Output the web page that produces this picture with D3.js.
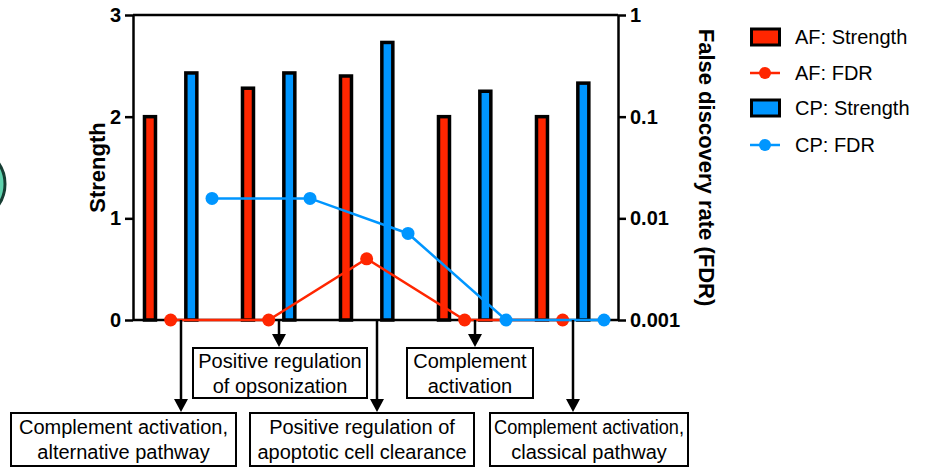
<!DOCTYPE html>
<html>
<head>
<meta charset="utf-8">
<script src="https://cdn.jsdelivr.net/npm/d3@7"></script>
<style>
  body { margin: 0; background: #fff; }
  text { font-family: "Liberation Sans", Arial, sans-serif; fill: #000; }
</style>
</head>
<body>
<svg id="chart" width="931" height="467"></svg>
<script>
// categories (GO terms), one group of bars per term
const categories = [
    ["Complement activation,", "alternative pathway"],
    ["Positive regulation", "of opsonization"],
    ["Positive regulation of", "apoptotic cell clearance"],
    ["Complement", "activation"],
    ["Complement activation,", "classical pathway"]
];
const afStrength = [2.0, 2.28, 2.40, 2.0, 2.0];
const cpStrength = [2.43, 2.43, 2.73, 2.25, 2.33];
const afFdr = [0.001, 0.001, 0.004, 0.001, 0.001];
const cpFdr = [0.0157, 0.0157, 0.0071, 0.001, 0.001];
const strengthTicks = [0, 1, 2, 3];
const fdrTicks = [0.001, 0.01, 0.1, 1];
const seriesNames = ["AF: Strength", "AF: FDR", "CP: Strength", "CP: FDR"];

const red = "#ff2600";
const blue = "#0096ff";

const svg = d3.select("#chart");
const plotTop = 15, plotBottom = 320, plotLeft = 133, plotRight = 618;

const ids = categories.map((c, i) => i);
const x = d3.scaleBand().domain(ids).range([132, 622]);
const slot = d3.scalePoint().domain(seriesNames).range([0, x.bandwidth()]).padding(0.87);
const y = d3.scaleLinear().domain([0, 3]).range([plotBottom, plotTop]);
const yFdr = d3.scaleLog().domain([0.001, 1]).range([plotBottom, plotTop]);

// cut-off circle at the left edge (part of a neighbouring panel)
svg.append("circle")
    .attr("cx", -32).attr("cy", 184).attr("r", 37)
    .attr("fill", "#5fd3ae").attr("stroke", "#163d33").attr("stroke-width", 3);

// frame line along the top
svg.append("line")
    .attr("x1", plotLeft).attr("x2", plotRight).attr("y1", plotTop).attr("y2", plotTop)
    .attr("stroke", "#000").attr("stroke-width", 2.5);

const yAxis = svg.append("g")
    .attr("transform", `translate(${plotLeft},0)`)
    .call(d3.axisLeft(y).tickValues(strengthTicks).tickFormat(d3.format("d")).tickSize(8).tickPadding(4).tickSizeOuter(0));
const fdrAxis = svg.append("g")
    .attr("transform", `translate(${plotRight},0)`)
    .call(d3.axisRight(yFdr).tickValues(fdrTicks).tickFormat(d3.format("~g")).tickSize(8).tickPadding(4).tickSizeOuter(0));
const xAxis = svg.append("g")
    .attr("transform", `translate(0,${plotBottom})`)
    .call(d3.axisBottom(x).tickSize(0).tickSizeOuter(0).tickFormat(""));
xAxis.select(".domain").attr("d", `M${plotLeft},0H${plotRight}`);

[yAxis, fdrAxis, xAxis].forEach(g => {
    g.selectAll("path, line").attr("stroke", "#000").attr("stroke-width", 2.5);
    g.selectAll("text")
        .style("font-family", '"Liberation Sans", Arial, sans-serif')
        .style("font-size", "20px").style("font-weight", "bold").attr("fill", "#000");
});

svg.append("text")
    .attr("transform", `translate(97,${(plotTop + plotBottom) / 2}) rotate(-90)`)
    .attr("text-anchor", "middle").attr("dominant-baseline", "central")
    .style("font-size", "22px").style("font-weight", "bold")
    .text("Strength");
svg.append("text")
    .attr("transform", `translate(706,${(plotTop + plotBottom) / 2}) rotate(90)`)
    .attr("text-anchor", "middle").attr("dominant-baseline", "central")
    .style("font-size", "22px").style("font-weight", "bold")
    .text("False discovery rate (FDR)");

// bars
const barW = 11;
function drawBars(values, name, color) {
    svg.append("g").selectAll("rect")
        .data(values)
        .enter()
        .append("rect")
        .attr("x", (d, i) => x(i) + slot(name) - barW / 2)
        .attr("y", d => y(d))
        .attr("width", barW)
        .attr("height", d => y(0) - y(d))
        .attr("fill", color)
        .attr("stroke", "#000")
        .attr("stroke-width", 3.5);
}
drawBars(afStrength, "AF: Strength", red);
drawBars(cpStrength, "CP: Strength", blue);

// FDR lines
function drawFdr(values, name, color) {
    const line = d3.line()
        .x((d, i) => x(i) + slot(name))
        .y(d => yFdr(d));
    svg.append("path")
        .datum(values)
        .attr("d", line)
        .attr("fill", "none")
        .attr("stroke", color)
        .attr("stroke-width", 2.5);
    svg.append("g").selectAll("circle")
        .data(values)
        .enter()
        .append("circle")
        .attr("cx", (d, i) => x(i) + slot(name))
        .attr("cy", d => yFdr(d))
        .attr("r", 6.5)
        .attr("fill", color);
}
drawFdr(afFdr, "AF: FDR", red);
drawFdr(cpFdr, "CP: FDR", blue);

// arrows down to the term boxes; two rows of boxes
const rowTop = [348, 413];
const rowBottom = [398, 466];
const boxEdges = [[11, 236], [193, 367], [250, 474], [407, 533], [490, 688]];
const headH = 13, headW = 14;

categories.forEach((lines, i) => {
    const row = i % 2 === 0 ? 1 : 0;
    const cx = x(i) + x.bandwidth() / 2;
    const tip = rowTop[row] - 1;
    svg.append("line")
        .attr("x1", cx).attr("x2", cx)
        .attr("y1", plotBottom).attr("y2", tip - headH + 1)
        .attr("stroke", "#000").attr("stroke-width", 2.5);
    svg.append("path")
        .attr("d", `M${cx - headW / 2},${tip - headH}L${cx + headW / 2},${tip - headH}L${cx},${tip}Z`)
        .attr("fill", "#000");

    const [x0, x1] = boxEdges[i];
    svg.append("rect")
        .attr("x", x0).attr("y", rowTop[row])
        .attr("width", x1 - x0).attr("height", rowBottom[row] - rowTop[row])
        .attr("fill", "#fff").attr("stroke", "#000").attr("stroke-width", 2);
    const mid = (rowTop[row] + rowBottom[row]) / 2;
    lines.forEach((t, k) => {
        const txt = svg.append("text")
            .attr("x", (x0 + x1) / 2)
            .attr("y", mid + (k - 0.5) * 25)
            .attr("text-anchor", "middle")
            .attr("dominant-baseline", "central")
            .style("font-size", "20px")
            .text(t);
        const maxW = x1 - x0 - 8;
        if (txt.node().getComputedTextLength() > maxW) {
            txt.attr("textLength", maxW).attr("lengthAdjust", "spacingAndGlyphs");
        }
    });
});

// legend
const legendY = [37, 73, 108, 145];
const legend = svg.append("g");
seriesNames.forEach((name, i) => {
    const color = name.startsWith("AF") ? red : blue;
    const g = legend.append("g").attr("transform", `translate(750,${legendY[i]})`);
    if (name.endsWith("Strength")) {
        g.append("rect")
            .attr("x", 1.5).attr("y", -8)
            .attr("width", 28).attr("height", 16)
            .attr("fill", color).attr("stroke", "#000").attr("stroke-width", 3);
    } else {
        g.append("line").attr("x1", 0).attr("x2", 30)
            .attr("stroke", color).attr("stroke-width", 2.5);
        g.append("circle").attr("cx", 15).attr("r", 6).attr("fill", color);
    }
    g.append("text")
        .attr("x", 45).attr("dominant-baseline", "central")
        .style("font-size", "20px")
        .text(name);
});
</script>
</body>
</html>
